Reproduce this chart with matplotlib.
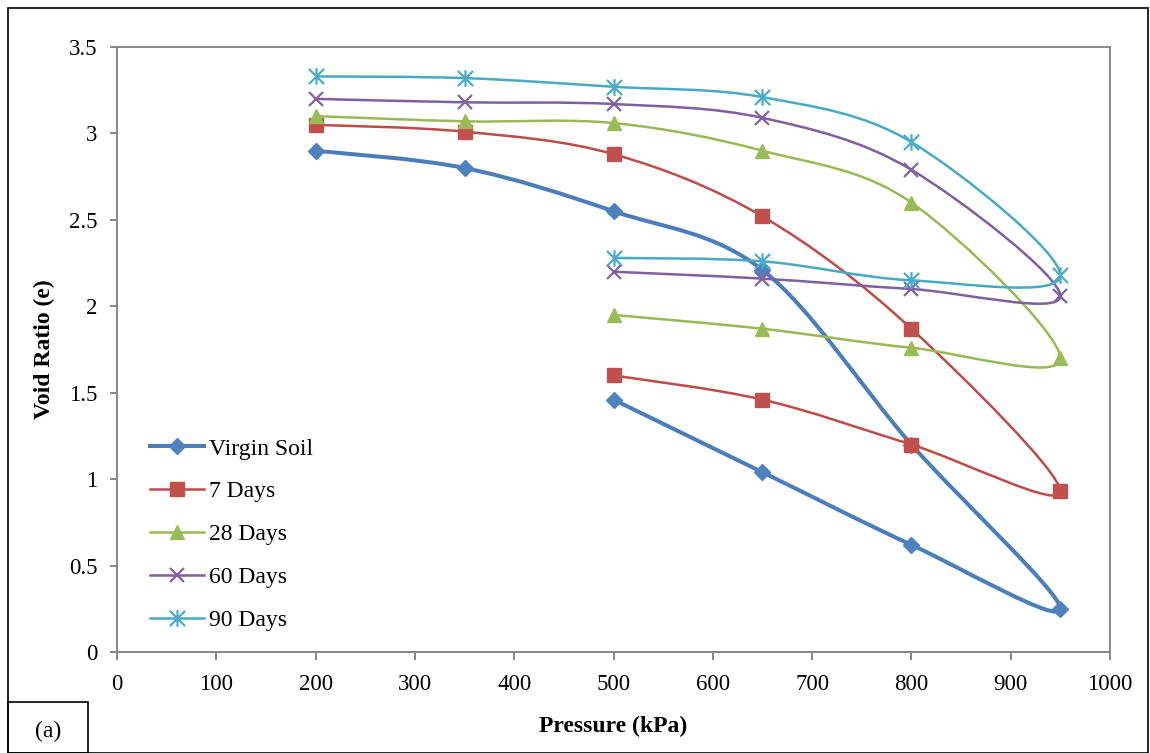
import numpy as np
import matplotlib
matplotlib.use("Agg")
import matplotlib.pyplot as plt
from matplotlib.path import Path
from matplotlib.patches import PathPatch, Rectangle
from matplotlib.lines import Line2D

plt.rcParams['font.family'] = ['Liberation Serif', 'DejaVu Serif']

# pressure path: loading then unloading
pressure = [200, 350, 500, 650, 800, 950, 800, 650, 500]

virgin = [2.90, 2.80, 2.55, 2.21, 1.20, 0.25, 0.62, 1.04, 1.46]
days7 = [3.05, 3.01, 2.88, 2.52, 1.87, 0.93, 1.20, 1.46, 1.60]
days28 = [3.10, 3.07, 3.06, 2.90, 2.60, 1.70, 1.76, 1.87, 1.95]
days60 = [3.20, 3.18, 3.17, 3.09, 2.79, 2.06, 2.10, 2.16, 2.20]
days90 = [3.33, 3.32, 3.27, 3.21, 2.95, 2.18, 2.15, 2.26, 2.28]

labels = ["Virgin Soil", "7 Days", "28 Days", "60 Days", "90 Days"]

# asterisk marker like excel's "star"
star = Path([(-0.5, -0.5), (0.5, 0.5), (-0.5, 0.5), (0.5, -0.5), (0, -0.55), (0, 0.55)],
            [Path.MOVETO, Path.LINETO, Path.MOVETO, Path.LINETO, Path.MOVETO, Path.LINETO])

styles = [
    dict(color="#4A7EBB", mfc="#4F81BD", lw=2.9, marker="D", ms=8, mew=1),
    dict(color="#BE4B48", mfc="#C0504D", lw=1.8, marker="s", ms=9.5, mew=1),
    dict(color="#98B954", mfc="#9BBB59", lw=1.8, marker="^", ms=10.5, mew=1),
    dict(color="#7D60A0", mfc="#8064A2", lw=1.8, marker="x", ms=9.5, mew=1.6),
    dict(color="#46AAC5", mfc="#4BACC6", lw=1.8, marker=star, ms=12, mew=1.6),
]


def smooth_path(x, y):
    # bezier segments like excel "smoothed line"
    p = np.column_stack([x, y]).astype(float)
    n = len(p)
    verts = [p[0]]
    codes = [Path.MOVETO]
    for i in range(n - 1):
        p0 = p[i - 1] if i > 0 else p[i]
        p3 = p[i + 2] if i + 2 < n else p[i + 1]
        c1 = p[i] + (p[i + 1] - p0) / 6.0
        c2 = p[i + 1] - (p3 - p[i]) / 6.0
        verts += [c1, c2, p[i + 1]]
        codes += [Path.CURVE4] * 3
    return Path(verts, codes)


fig = plt.figure(figsize=(11.5, 7.53), dpi=100)
ax = fig.add_axes([117 / 1150, 1 - 652 / 753, (1110 - 117) / 1150, (652 - 47) / 753])

series = [virgin, days7, days28, days60, days90]
handles = []
for vals, st, lab in zip(series, styles, labels):
    ax.add_patch(PathPatch(smooth_path(pressure, vals), facecolor="none",
                           edgecolor=st["color"], lw=st["lw"], zorder=2))
    mec = st["mfc"]
    ax.plot(pressure, vals, ls="none", marker=st["marker"], ms=st["ms"],
            mfc=st["mfc"], mec=mec, mew=st["mew"], zorder=3)
    handles.append(Line2D([], [], color=st["color"], lw=st["lw"], marker=st["marker"],
                          ms=st["ms"], mfc=st["mfc"], mec=mec, mew=st["mew"]))

ax.set_xlim(0, 1000)
ax.set_ylim(0, 3.5)
ax.set_xticks(np.arange(0, 1001, 100))
ax.set_yticks(np.arange(0, 3.51, 0.5))
ax.set_yticklabels(["0", "0.5", "1", "1.5", "2", "2.5", "3", "3.5"])

for s in ax.spines.values():
    s.set_color("#868686")
    s.set_linewidth(1.4)
ax.tick_params(axis="both", colors="#868686", labelcolor="black", labelsize=16.5, width=1.4)
ax.tick_params(axis="x", length=6, pad=10)
ax.tick_params(axis="y", length=5, pad=9)

ax.set_xlabel("Pressure (kPa)", fontsize=17, fontweight="bold", labelpad=15)
ax.set_ylabel("Void Ratio (e)", fontsize=17, fontweight="bold", labelpad=10)

ax.legend(handles, labels, loc="lower left", bbox_to_anchor=(0.033, 0.035),
          frameon=False, fontsize=17, handlelength=2.3, handletextpad=0.2,
          labelspacing=0.9, borderaxespad=0, borderpad=0)

# outer frame and the (a) box
fig.add_artist(Rectangle((8 / 1150, 0), (1148 - 8) / 1150, 1 - 8 / 753,
                         transform=fig.transFigure, fill=False, ec="black", lw=1.2))
fig.add_artist(Rectangle((8 / 1150, 0), 80 / 1150, 51 / 753,
                         transform=fig.transFigure, fill=False, ec="black", lw=1.2))
fig.text(48 / 1150, 1 - 731 / 753, "(a)", fontsize=17, ha="center", va="center")

fig.savefig("out.png", dpi=100)
